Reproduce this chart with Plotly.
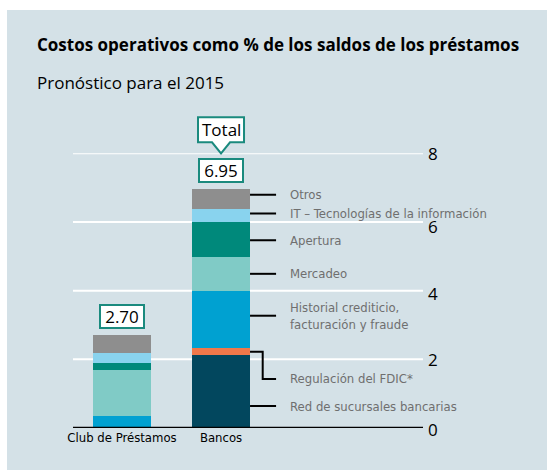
import plotly.graph_objects as go

# ---------------- data ----------------
categories = ["Club de Préstamos", "Bancos"]
segment_names = [
    "Red de sucursales bancarias",
    "Regulación del FDIC*",
    "Historial crediticio,<br>facturación y fraude",
    "Mercadeo",
    "Apertura",
    "IT – Tecnologías de la información",
    "Otros",
]
club_values = [0.0, 0.0, 0.33, 1.36, 0.18, 0.32, 0.51]
bank_values = [2.13, 0.18, 1.67, 1.00, 1.02, 0.36, 0.59]
totals = [2.70, 6.95]
total_labels = ["2.70", "6.95"]
label_y = [0.64, 1.43, 3.27, 4.49, 5.47, 6.25, 6.79]   # where each side label sits
segment_colors = ["#02475e", "#f0784a", "#00a1d1", "#80cbc6", "#00897b", "#89d3ee", "#8e8e8e"]
y_ticks = [0, 2, 4, 6, 8]
tick_label_shift = [-1, 0, -3, -5, 0]

W, H = 547, 470
BAR_W = 0.586
TEAL = "#1a8a7e"
COND = "Liberation Sans Narrow, DejaVu Sans Condensed, sans-serif"
MAIN = "Open Sans, sans-serif"

# axis geometry (pixels)
X_PX0, X_PX1 = 73, 423
Y_PX0, Y_PX1 = 428, 153.3
X_RANGE = [-0.495, 3.04]
Y_RANGE = [0, 8]
px_per_x = (X_PX1 - X_PX0) / (X_RANGE[1] - X_RANGE[0])
px_per_y = (Y_PX0 - Y_PX1) / (Y_RANGE[1] - Y_RANGE[0])

xpos = list(range(len(categories)))

fig = go.Figure()
for name, c, cv, bv in zip(segment_names, segment_colors, club_values, bank_values):
    fig.add_trace(go.Bar(x=xpos, y=[cv, bv], name=name, marker=dict(color=c, line=dict(width=0)),
                         width=BAR_W, showlegend=False, hoverinfo="skip"))

shapes = []
annotations = []

# background panel
shapes.append(dict(type="rect", xref="paper", yref="paper", x0=7 / W, x1=1.0, y0=0, y1=(H - 10) / H,
                   fillcolor="#d4e1e7", line=dict(width=0), layer="below"))

# gridlines and tick labels
for t, sh in zip(y_ticks, tick_label_shift):
    shapes.append(dict(type="line", xref="x domain", yref="y", x0=0, x1=1, y0=t, y1=t,
                       line=dict(color="black" if t == 0 else "white", width=2.5 if t == 0 else 2),
                       layer="above" if t == 0 else "below"))
    annotations.append(dict(x=1, y=t, xref="x domain", yref="y", text=str(t), showarrow=False,
                            xanchor="left", yanchor="middle", xshift=3, yshift=sh,
                            font=dict(family=MAIN, size=17, color="black")))

# leader lines and labels for the bank bar
bx_edge = 1 + BAR_W / 2
x_end = 1.556
x_text = 1.677
x_elbow = 1.421
cum = 0
for i, (name, v) in enumerate(zip(segment_names, bank_values)):
    mid = cum + v / 2
    cum += v
    ly = label_y[i]
    if i == 1:
        shapes.append(dict(type="path", xref="x", yref="y",
                           path=f"M {bx_edge},{mid} L {x_elbow},{mid} L {x_elbow},{ly} L {x_end},{ly}",
                           line=dict(color="black", width=2)))
    else:
        shapes.append(dict(type="line", xref="x", yref="y", x0=bx_edge, x1=x_end, y0=ly, y1=ly,
                           line=dict(color="black", width=2)))
    annotations.append(dict(x=x_text, y=ly, xref="x", yref="y", text=name, showarrow=False,
                            xanchor="left", yanchor="middle", align="left",
                            font=dict(family=COND, size=13, color="#6f6f6f")))

# total value boxes
for i, (t, lab) in enumerate(zip(totals, total_labels)):
    annotations.append(dict(x=xpos[i], y=t, xref="x", yref="y", text=lab, showarrow=False,
                            yanchor="middle", yshift=19, bgcolor="white", bordercolor=TEAL,
                            borderwidth=2, borderpad=2, width=38, height=17,
                            font=dict(family=MAIN, size=17, color="black")))

# "Total" callout with pointer (tip on top gridline), drawn in paper coords so it is not clipped
tip_x, tip_y = xpos[1], Y_RANGE[1]
tip_px_x = X_PX0 + (tip_x - X_RANGE[0]) * px_per_x
tip_px_y = Y_PX0 - (tip_y - Y_RANGE[0]) * px_per_y
callout_px = [(-9, 11), (-23, 11), (-23, 36), (23, 36), (23, 11), (9, 11), (0, 0)]
pts = [((tip_px_x + dx) / W, (H - (tip_px_y - dy)) / H) for dx, dy in callout_px]
path = "M " + " L ".join(f"{px:.5f},{py:.5f}" for px, py in pts) + " Z"
shapes.append(dict(type="path", xref="paper", yref="paper", path=path,
                   fillcolor="white", line=dict(color=TEAL, width=2), layer="above"))
annotations.append(dict(x=tip_x, y=tip_y, xref="x", yref="y", text="Total", showarrow=False,
                        yanchor="middle", yshift=23.5, font=dict(family=MAIN, size=17, color="black")))

# titles
annotations.append(dict(x=37 / W, y=1 - 45 / H, xref="paper", yref="paper", xanchor="left", yanchor="middle",
                        xshift=-2,
                        text="<b>Costos operativos como % de los saldos de los préstamos</b>", showarrow=False,
                        font=dict(family=MAIN, size=17, color="black")))
annotations.append(dict(x=37 / W, y=1 - 82 / H, xref="paper", yref="paper", xanchor="left", yanchor="middle",
                        xshift=-2,
                        text="Pronóstico para el 2015", showarrow=False,
                        font=dict(family=MAIN, size=17, color="black")))

fig.update_layout(
    width=W, height=H,
    margin=dict(l=0, r=0, t=0, b=0),
    paper_bgcolor="white", plot_bgcolor="rgba(0,0,0,0)",
    barmode="stack", bargap=0,
    shapes=shapes, annotations=annotations,
    showlegend=False,
)
fig.update_xaxes(domain=[X_PX0 / W, X_PX1 / W], range=X_RANGE,
                 tickvals=xpos, ticktext=categories,
                 showgrid=False, zeroline=False, showline=False, ticks="",
                 tickfont=dict(family=COND, size=13, color="black"), automargin=False)
fig.update_yaxes(domain=[(H - Y_PX0) / H, (H - Y_PX1) / H], range=Y_RANGE,
                 showgrid=False, zeroline=False, showline=False, showticklabels=False, ticks="",
                 automargin=False)

fig.write_html("out.html", config={"displayModeBar": False},
               post_script="document.body.style.margin='0';")
